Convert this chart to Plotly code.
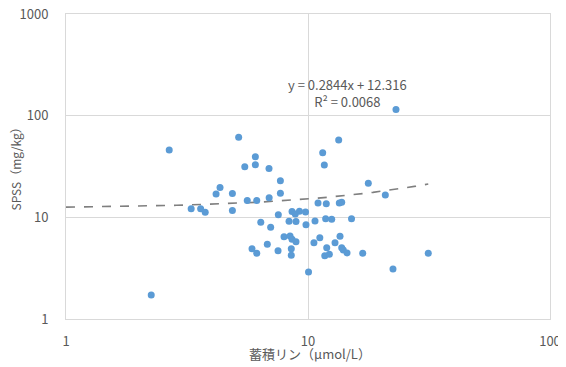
import numpy as np
import plotly.graph_objects as go

# 蓄積リン (µmol/L) and SPSS (mg/kg)
phosphorus = [2.25, 2.67, 3.29, 3.60, 3.76, 4.17, 4.33, 4.87, 4.87, 5.17,
              5.48, 5.61, 6.06, 6.06, 6.14, 5.87, 6.14, 6.38, 6.79, 6.90,
              6.91, 7.01, 7.54, 7.52, 7.69, 7.69, 7.96, 8.43, 8.59, 8.92,
              8.53, 8.53, 8.35, 8.92, 8.59, 8.86, 9.22, 9.77, 9.81, 10.05,
              10.58, 10.69, 11.0, 11.19, 11.50, 11.68, 11.90, 11.83, 11.95, 11.73,
              12.25, 12.53, 12.93, 13.39, 13.47, 13.78, 13.56, 13.78, 13.99, 14.50,
              15.13, 16.83, 17.75, 20.87, 22.45, 23.1, 31.4]
spss = [1.72, 45.9, 12.15, 12.15, 11.2, 16.95, 19.7, 17.2, 11.7, 61.2,
        31.4, 14.6, 39.4, 32.9, 14.6, 4.91, 4.43, 8.95, 5.43, 30.3,
        15.6, 7.99, 10.6, 4.69, 22.9, 17.3, 6.45, 6.55, 6.08, 5.75,
        4.91, 4.23, 9.16, 9.09, 11.4, 10.8, 11.5, 11.3, 8.46, 2.90,
        5.63, 9.19, 13.8, 6.30, 43.2, 32.7, 13.6, 9.69, 5.02, 4.19,
        4.33, 9.56, 5.63, 57.5, 13.8, 14.1, 6.51, 5.02, 4.77, 4.46,
        9.69, 4.43, 21.7, 16.6, 3.10, 115.3, 4.43]

# Linear trendline shown on the chart: y = 0.2844x + 12.316
slope = 0.2844
intercept = 12.316
trend_x = np.logspace(0, np.log10(max(phosphorus)), 60)
trend_y = slope * trend_x + intercept

x_ticks = [1, 10, 100]
y_ticks = [1, 10, 100, 1000]

font_family = "Noto Sans CJK JP, Noto Sans, sans-serif"
text_color = "#595959"
grid_color = "#d9d9d9"

# page body has an 8px default margin, so the figure is sized to fill the rest
W, H = 558, 359
L, R, T, B = 58, 16, 6, 48
pw, ph = W - L - R, H - T - B

fig = go.Figure()
fig.add_trace(go.Scatter(
    x=trend_x, y=trend_y, mode="lines",
    line=dict(color="#7f7f7f", width=1.6, dash="dash"),
    hoverinfo="skip", showlegend=False,
))
fig.add_trace(go.Scatter(
    x=phosphorus, y=spss, mode="markers",
    marker=dict(color="#5b9bd5", size=7),
    showlegend=False,
))

# trendline equation label
fig.add_annotation(
    x=(339 - L) / pw, y=(H - B - 85) / ph, xref="paper", yref="paper",
    xanchor="center", yanchor="middle",
    text="y = 0.2844x + 12.316<br>R² = 0.0068",
    showarrow=False, align="center",
    font=dict(family=font_family, size=13, color=text_color),
)
# axis titles
fig.add_annotation(
    x=(302 - L) / pw, y=(H - B - 346) / ph, xref="paper", yref="paper",
    xanchor="center", yanchor="middle",
    text="蓄積リン（μmol/L）", showarrow=False,
    font=dict(family=font_family, size=13, color=text_color),
)
fig.add_annotation(
    x=(7 - L) / pw, y=0.5, xref="paper", yref="paper",
    xanchor="center", yanchor="middle",
    text="SPSS（mg/kg）", showarrow=False, textangle=-90,
    font=dict(family=font_family, size=12, color=text_color),
)

fig.update_layout(
    width=W, height=H,
    margin=dict(l=L, r=R, t=T, b=B, autoexpand=False),
    paper_bgcolor="white", plot_bgcolor="white",
    font=dict(family=font_family, size=13, color=text_color),
)
fig.update_xaxes(
    type="log", range=[0, 2], automargin=False,
    tickvals=x_ticks, ticktext=[str(v) for v in x_ticks],
    showgrid=True, gridcolor=grid_color, gridwidth=1,
    showline=True, linecolor=grid_color, mirror=True,
    zeroline=False, ticks="", ticklabelstandoff=10,
    ticklabeloverflow="allow",
)
fig.update_yaxes(
    type="log", range=[0, 3], automargin=False,
    tickvals=y_ticks, ticktext=[str(v) for v in y_ticks],
    showgrid=True, gridcolor=grid_color, gridwidth=1,
    showline=True, linecolor=grid_color, mirror=True,
    zeroline=False, ticks="", ticklabelstandoff=14,
    ticklabeloverflow="allow",
)

fig.write_html("out.html")
